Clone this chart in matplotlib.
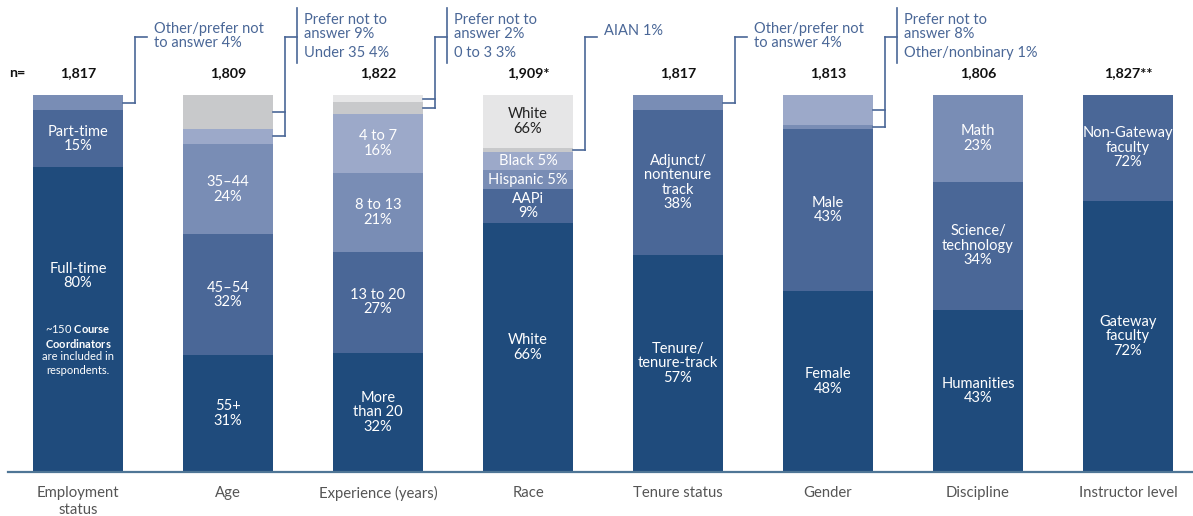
import matplotlib
matplotlib.use("Agg")
import matplotlib.pyplot as plt
import numpy as np

plt.rcParams['font.family'] = ['Lato', 'DejaVu Sans']
plt.rcParams['mathtext.fontset'] = 'custom'
plt.rcParams['mathtext.rm'] = 'Lato'
plt.rcParams['mathtext.bf'] = 'Lato:bold'

# ---------------- data ----------------
categories = ["Employment\nstatus", "Age", "Experience (years)", "Race",
              "Tenure status", "Gender", "Discipline", "Instructor level"]
n_labels = ["1,817", "1,809", "1,822", "1,909*", "1,817", "1,813", "1,806", "1,827**"]

# segments listed bottom -> top
emp_vals = [80, 15, 4]
age_vals = [31, 32, 24, 4, 9]
exp_vals = [32, 27, 21, 16, 3, 2]
race_vals = [66, 9, 5, 5, 1, 14]
tenure_vals = [57, 38, 4]
gender_vals = [48, 43, 1, 8]
disc_vals = [43, 34, 23]
instr_vals = [72, 28]

emp_labels = ["Full-time\n80%", "Part-time\n15%", ""]
age_labels = ["55+\n31%", "45–54\n32%", "35–44\n24%", "", ""]
exp_labels = ["More\nthan 20\n32%", "13 to 20\n27%", "8 to 13\n21%", "4 to 7\n16%", "", ""]
race_labels = ["White\n66%", "AAPi\n9%", "Hispanic 5%", "Black 5%", "", "White\n66%"]
tenure_labels = ["Tenure/\ntenure-track\n57%", "Adjunct/\nnontenure\ntrack\n38%", ""]
gender_labels = ["Female\n48%", "Male\n43%", "", ""]
disc_labels = ["Humanities\n43%", "Science/\ntechnology\n34%", "Math\n23%"]
instr_labels = ["Gateway\nfaculty\n72%", "Non-Gateway\nfaculty\n72%"]

# callouts: (bar index, segment indices, texts)
callouts = [
    (0, [2], ["Other/prefer not\nto answer 4%"]),
    (1, [4, 3], ["Prefer not to\nanswer 9%", "Under 35 4%"]),
    (2, [5, 4], ["Prefer not to\nanswer 2%", "0 to 3 3%"]),
    (3, [4], ["AIAN 1%"]),
    (4, [2], ["Other/prefer not\nto answer 4%"]),
    (5, [3, 2], ["Prefer not to\nanswer 8%", "Other/nonbinary 1%"]),
]

# ---------------- styles ----------------
DARK = "#1F4B7C"
MID = "#4A6797"
MIDL = "#798DB5"
LIGHT = "#9CA9C9"
GRAY = "#C8C9CB"
LGRAY = "#E6E6E7"
LINE = "#4A6797"

colors = [
    [DARK, MID, MIDL],
    [DARK, MID, MIDL, LIGHT, GRAY],
    [DARK, MID, MIDL, LIGHT, GRAY, LGRAY],
    [DARK, MID, MIDL, LIGHT, GRAY, LGRAY],
    [DARK, MID, MIDL],
    [DARK, MID, MIDL, LIGHT],
    [DARK, MID, MIDL],
    [DARK, MID],
]
all_vals = [emp_vals, age_vals, exp_vals, race_vals, tenure_vals, gender_vals, disc_vals, instr_vals]
all_labels = [emp_labels, age_labels, exp_labels, race_labels, tenure_labels, gender_labels, disc_labels, instr_labels]

W, H = 1193, 516
fig = plt.figure(figsize=(W / 100, H / 100), dpi=100)
ax = fig.add_axes([0, 0, 1, 1])

# pixel mapping helpers (layout only)
BASE_PX, TOP_PX = 472, 95
PPU = (BASE_PX - TOP_PX) / 100.0
X0_PX, STEP_PX = 78, 150
ax.set_ylim(-(H - BASE_PX) / PPU, BASE_PX / PPU)
ax.set_xlim(-X0_PX / STEP_PX, (W - X0_PX) / STEP_PX)
ax.axis('off')


def py(p):
    return (BASE_PX - p) / PPU


def px(p):
    return (p - X0_PX) / STEP_PX


BW = 0.6
seg_mid = {}
for i, (vals, labs, cols) in enumerate(zip(all_vals, all_labels, colors)):
    tot = float(sum(vals))
    bottom = 0.0
    for j, (v, lab, c) in enumerate(zip(vals, labs, cols)):
        h = v / tot * 100
        ax.bar(i, h, width=BW, bottom=bottom, color=c, edgecolor='none', zorder=2)
        seg_mid[(i, j)] = bottom + h / 2
        if lab:
            tc = "#222222" if c in (LGRAY, GRAY) else "white"
            yc = bottom + h / 2
            if i == 0 and j == 0:
                yc = py(276)
            ax.text(i, yc, lab, ha='center', va='center', color=tc,
                    fontsize=10.5, linespacing=1.05, zorder=3)
        bottom += h

# note inside Employment full-time segment
note_lines = ["~150 $\\mathbf{Course}$", "$\\mathbf{Coordinators}$", "are included in", "respondents."]
for k, ln in enumerate(note_lines):
    ax.text(0, py(329 + k * 14), ln, ha='center', va='center', color='white', fontsize=8, zorder=3)

# baseline
ax.plot([px(8), px(W)], [0, 0], color="#4F7696", lw=1.6, zorder=4, clip_on=False)

# category labels
for i, c in enumerate(categories):
    ax.text(i, py(486), c, ha='center', va='top', color="#555555", fontsize=10.7, linespacing=1.3)

# n labels
ax.text(px(9), py(73), "n=", ha='left', va='center', fontsize=10.3, fontweight='bold', color='#111111')
for i, n in enumerate(n_labels):
    ax.text(i, py(73), n, ha='center', va='center', fontsize=10.3, fontweight='bold', color='#111111')

# callouts
JOIN = py(37)
for i, segs, texts in callouts:
    xr = i + BW / 2
    xv = xr + 12 / STEP_PX
    xb = xv + 12 / STEP_PX
    tops = []
    for s in segs:
        ym = seg_mid[(i, s)]
        ax.plot([xr, xv], [ym, ym], color=LINE, lw=1.2, clip_on=False, zorder=4)
        tops.append(ym)
    ax.plot([xv, xv], [min(tops), JOIN], color=LINE, lw=1.2, clip_on=False, zorder=4)
    ax.plot([xv, xb], [JOIN, JOIN], color=LINE, lw=1.2, clip_on=False, zorder=4)
    xt = xb + 7 / STEP_PX
    if len(texts) == 1:
        yt = py(36) if "\n" in texts[0] else py(31)
        ax.text(xt, yt, texts[0], ha='left', va='center', color=LINE, fontsize=10.5, linespacing=1.0)
    else:
        ax.plot([xb, xb], [py(8), py(63)], color=LINE, lw=1.2, clip_on=False, zorder=4)
        ax.text(xt, py(27), texts[0], ha='left', va='center', color=LINE, fontsize=10.5, linespacing=1.0)
        ax.text(xt, py(53), texts[1], ha='left', va='center', color=LINE, fontsize=10.5)

fig.savefig("out.png", dpi=100)
